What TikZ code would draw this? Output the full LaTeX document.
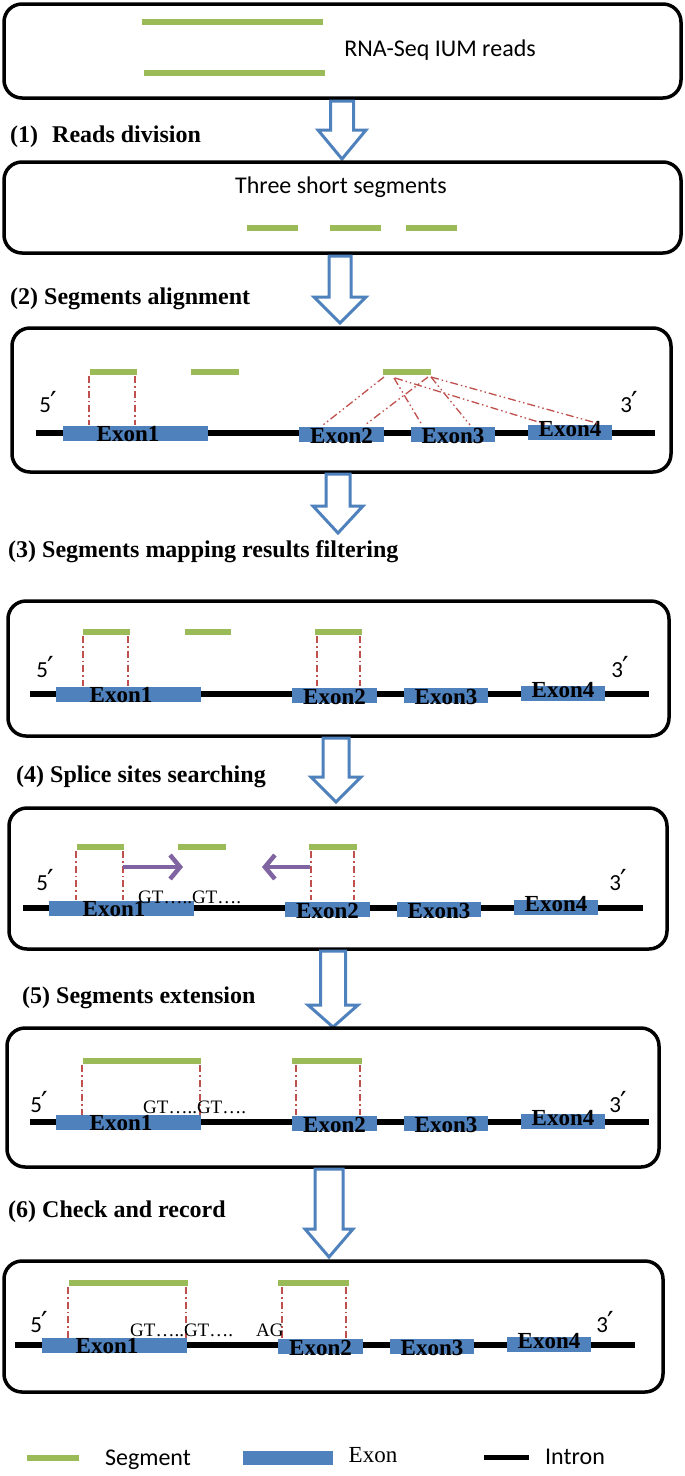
\documentclass[tikz,border=0pt]{standalone}
\usepackage{fontspec}
\setmainfont{Liberation Serif}
\newfontfamily\sfcal{Carlito}
\newfontfamily\primefont{DejaVu Sans}
\usetikzlibrary{arrows.meta}
\definecolor{segc}{HTML}{9BBB59}
\definecolor{exc}{HTML}{4F81BD}
\definecolor{redc}{HTML}{C0504D}
\definecolor{purc}{HTML}{8064A2}
\definecolor{arrc}{HTML}{4F81BD}
\newcommand\primemark{\kern-1pt{\primefont\fontsize{29}{29}\selectfont ′}}
\tikzset{
 panel/.style={draw=black, line width=3.5pt, rounded corners=18pt},
 seg/.style={draw=segc, line width=6pt},
 intron/.style={draw=black, line width=6.5pt},
 exonbox/.style={fill=exc, draw=none, minimum height=15pt, inner sep=0pt},
 exlab/.style={font=\fontsize{23}{23}\selectfont\bfseries, inner sep=0pt},
 sftext/.style={font=\sfcal\fontsize{24}{24}\selectfont, inner sep=0pt},
 primelab/.style={font=\sfcal\fontsize{23}{23}\selectfont, inner sep=0pt},
 steplab/.style={font=\fontsize{24}{24}\selectfont\bfseries, anchor=west, inner sep=0pt},
 gttext/.style={font=\fontsize{19}{19}\selectfont, inner sep=0pt, anchor=west},
 link/.style={draw=redc, line width=1.3pt, dash pattern=on 7pt off 3pt on 1.5pt off 3pt},
 link2/.style={draw=redc, line width=1.3pt, dash pattern=on 8pt off 3pt on 1.5pt off 3pt on 1.5pt off 3pt},
 flow/.style={draw=arrc, line width=3pt, fill=white, line join=miter},
 ext/.style={draw=purc, line width=4.5pt, -{Straight Barb[length=10pt,width=24pt]}},
}
% name, cx, ytop, yhead, ytip, shaft half, head half
\newcommand\flowarrow[7]{%
 \draw[flow] (#2-#6,#3) -- (#2-#6,#4) -- (#2-#7,#4) -- (#2,#5) -- (#2+#7,#4) -- (#2+#6,#4) -- (#2+#6,#3) -- cycle;
 \coordinate (#1) at (#2,#5);}
% tag, exon1 x, intron y, intron left, intron right
\newcommand\genemodel[5]{%
 \draw[intron] (#4,#3) -- (#5,#3);
 \node[exonbox, minimum width=145pt] (#1e1) at (#2+72.5,#3) {};
 \node[exonbox, minimum width=85pt] (#1e2) at (#2+236+42.5,#3+1) {};
 \node[exonbox, minimum width=84pt] (#1e3) at (#2+348+42,#3+1) {};
 \node[exonbox, minimum width=84pt] (#1e4) at (#2+465+42,#3-1) {};
 \node[exlab] (#1l1) at (#2+65,#3+1) {Exon1};
 \node[exlab, yshift=-2pt] (#1l2) at (#1e2.center) {Exon2};
 \node[exlab, yshift=-2pt] (#1l3) at (#1e3.center) {Exon3};
 \node[exlab, yshift=3pt] (#1l4) at (#1e4.center) {Exon4};}
\begin{document}
\begin{tikzpicture}[x=1pt,y=-1pt]
\fill[white] (0,0) rectangle (685,1476);
\useasboundingbox (0,0) rectangle (685,1476);

% ---------- panel 0
\draw[panel] (4,4) rectangle (681,98);
\draw[seg] (142,22) -- (323,22);
\draw[seg] (144,73) -- (325,73);
\node[sftext] (t0) at (440,50) {RNA-Seq IUM reads};
\flowarrow{a1}{342}{101}{130}{159}{11.5}{24}
\node[steplab] (s1) at (10,137) {(1)\hspace{14pt}Reads division};

% ---------- panel 1
\draw[panel] (4,162) rectangle (681,253);
\node[sftext] (t1) at (341,187) {Three short segments};
\draw[seg] (247,228) -- (298,228);
\draw[seg] (330,228) -- (381,228);
\draw[seg] (406,228) -- (457,228);
\flowarrow{a2}{340}{256}{297}{323}{11}{26}
\node[steplab] (s2) at (10,299) {(2) Segments alignment};

% ---------- panel 2
\draw[panel] (12,328) rectangle (671,472);
\draw[seg] (90,372) -- (137,372);
\draw[seg] (191,372) -- (239,372);
\draw[seg] (383,372) -- (431,372);
\node[primelab] (p2a) at (48,402) {5\primemark};
\node[primelab] (p2b) at (629,402) {3\primemark};
\genemodel{p2}{63}{433}{36}{655}
\draw[link] (89,376) -- (89,425);
\draw[link] (135,376) -- (135,425);
\draw[link2] (384,377) -- (323,425);
\draw[link2] (428,377) -- (365,425);
\draw[link2] (394,378) -- (422,425);
\draw[link2] (431,377) -- (470,425);
\draw[link2] (395,378) -- (545,424);
\draw[link2] (431,377) -- (600,424);
\flowarrow{a3}{338}{474}{506}{533}{12}{25}
\node[steplab] (s3) at (8,552) {(3) Segments mapping results filtering};

% ---------- panel 3
\draw[panel] (8,601) rectangle (669,736);
\draw[seg] (83,632) -- (130,632);
\draw[seg] (185,632) -- (231,632);
\draw[seg] (315,632) -- (362,632);
\node[primelab] (p3a) at (45,667) {5\primemark};
\node[primelab] (p3b) at (620,667) {3\primemark};
\genemodel{p3}{56}{694}{30}{649}
\draw[link] (83,636) -- (83,686);
\draw[link] (128,636) -- (128,686);
\draw[link] (317,636) -- (317,686);
\draw[link] (360,636) -- (360,686);
\flowarrow{a4}{336}{738}{777}{802}{13}{25}
\node[steplab] (s4) at (16,777) {(4) Splice sites searching};

% ---------- panel 4
\draw[panel] (9,808) rectangle (667,949);
\draw[seg] (77,847) -- (124,847);
\draw[seg] (178,847) -- (226,847);
\draw[seg] (309,847) -- (357,847);
\node[primelab] (p4a) at (45,880) {5\primemark};
\node[primelab] (p4b) at (618,880) {3\primemark};
\genemodel{p4}{49}{908}{23}{643}
\draw[link] (76,851) -- (76,900);
\draw[link] (123,851) -- (123,900);
\draw[link] (311,851) -- (311,900);
\draw[link] (354,851) -- (354,900);
\coordinate (r1) at (123,867); \coordinate (r2) at (183,867);
\coordinate (l1) at (310,867); \coordinate (l2) at (262,867);
\draw[ext] (r1) -- (r2);
\draw[ext] (l1) -- (l2);
\node[gttext] (g4) at (138,897) {GT…..GT….};
\flowarrow{a5}{333}{951}{1005}{1027}{12.5}{25}
\node[steplab] (s5) at (22,998) {(5) Segments extension};

% ---------- panel 5
\draw[panel] (7,1028) rectangle (659,1167);
\draw[seg] (83,1061) -- (201,1061);
\draw[seg] (292,1061) -- (362,1061);
\node[primelab] (p5a) at (39,1102) {5\primemark};
\node[primelab] (p5b) at (618,1102) {3\primemark};
\genemodel{p5}{56}{1122}{30}{649}
\draw[link] (82,1065) -- (82,1115);
\draw[link] (200,1065) -- (200,1115);
\draw[link] (296,1065) -- (296,1115);
\draw[link] (360,1065) -- (360,1115);
\node[gttext] (g5) at (143,1107) {GT…..GT….};
\flowarrow{a6}{329}{1169}{1229}{1257}{14}{24}
\node[steplab] (s6) at (8,1212) {(6) Check and record};

% ---------- panel 6
\draw[panel] (4,1261) rectangle (663,1392);
\draw[seg] (69,1283) -- (188,1283);
\draw[seg] (278,1283) -- (349,1283);
\node[primelab] (p6a) at (39,1322) {5\primemark};
\node[primelab] (p6b) at (605,1322) {3\primemark};
\genemodel{p6}{42}{1345}{15}{635}
\draw[link] (68,1287) -- (68,1338);
\draw[link] (186,1287) -- (186,1338);
\draw[link] (282,1287) -- (282,1338);
\draw[link] (346,1287) -- (346,1338);
\node[gttext] (g6) at (130,1330) {GT…..GT….};
\node[gttext] (ag6) at (256,1330) {AG};

% ---------- legend
\draw[seg] (27,1458) -- (79,1458);
\node[sftext] (lg1) at (148,1460) {Segment};
\node[fill=exc, minimum width=90pt, minimum height=14pt, inner sep=0pt] (lg2b) at (288,1458) {};
\node[font=\fontsize{23}{23}\selectfont, inner sep=0pt] (lg2) at (373,1455) {Exon};
\draw[draw=black, line width=5pt] (484,1457) -- (529,1457);
\node[sftext] (lg3) at (575,1457) {Intron};
\end{tikzpicture}
\end{document}
